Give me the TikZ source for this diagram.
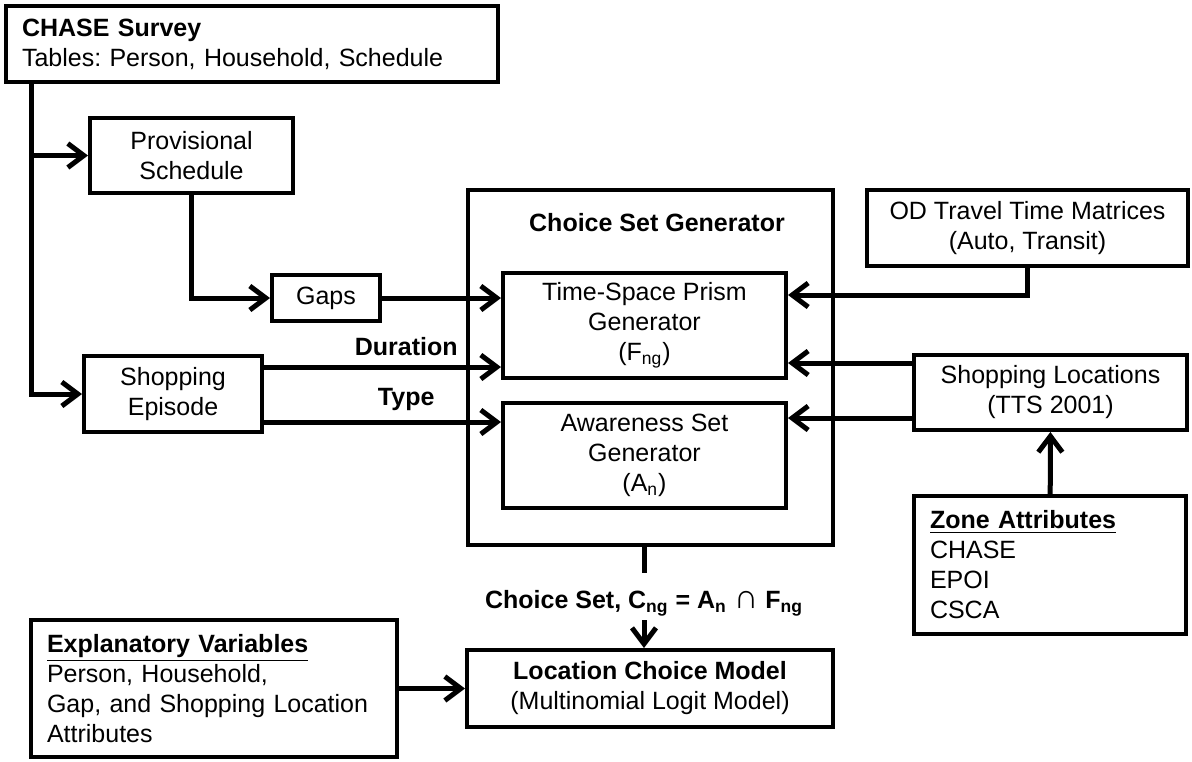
\documentclass[tikz,border=0pt]{standalone}
\usepackage{fontspec}
\setmainfont{Liberation Sans}
\usetikzlibrary{arrows.meta,positioning}
\frenchspacing

\begin{document}
\begin{tikzpicture}[x=0.5pt,y=-0.5pt,
    txt/.style={font=\fontsize{12.5}{15}\selectfont},
    bld/.style={font=\fontsize{12.5}{15}\selectfont\bfseries},
    blk/.style={txt, draw, line width=2pt, inner sep=0pt, align=center},
    lft/.style={blk, align=left, inner xsep=8pt},
    lnk/.style={line width=2.5pt},
    arr/.style={lnk, -{Straight Barb[length=8pt,width=12pt]}}]
    \useasboundingbox (0,0) rectangle (1192,761);

    % inputs
    \node[lft, text width=230pt, minimum height=38pt] (survey) at (252,44)
        {\textbf{CHASE Survey}\\Tables: Person, Household, Schedule};
    \node[blk, minimum width=101.5pt, minimum height=37.5pt] (prov) at (191.5,155.5) {Provisional\\Schedule};
    \node[blk, minimum width=54pt, minimum height=23pt] (gaps) at (326,298) {Gaps};
    \node[blk, minimum width=89pt, minimum height=38pt] (shop) at (173,394) {Shopping\\Episode};
    \node[blk, minimum width=160.5pt, minimum height=38pt] (od) at (1027.5,228) {OD Travel Time Matrices\\(Auto, Transit)};
    \node[blk, minimum width=136.5pt, minimum height=37.5pt] (shoploc) at (1050.5,392.5) {Shopping Locations\\(TTS 2001)};
    \node[lft, text width=120pt, minimum height=69pt] (zone) at (1050,565)
        {\underline{\textbf{Zone Attributes}}\\CHASE\\EPOI\\CSCA};
    \node[lft, text width=167pt, minimum height=68.5pt] (expl) at (214,688.5)
        {\underline{\textbf{Explanatory Variables}}\\Person, Household,\\Gap, and Shopping Location\\Attributes};

    % generator
    \node[blk, minimum width=182.5pt, minimum height=177.5pt] (csg) at (650.5,367.5) {};
    \node[bld] (csgtitle) at (657,223) {Choice Set Generator};
    \node[blk, minimum width=141.5pt, minimum height=52.5pt] (tsp) at (644.5,325.5) {Time-Space Prism\\Generator\\(F\textsubscript{ng})};
    \node[blk, minimum width=141.5pt, minimum height=52.5pt] (aware) at (644.5,455.5) {Awareness Set\\Generator\\(A\textsubscript{n})};

    \node[bld] (cs) at (644,603) {Choice Set, C\textsubscript{ng} = A\textsubscript{n} {\fontsize{17}{15}\selectfont ∩} F\textsubscript{ng}};
    \node[blk, minimum width=183pt, minimum height=38.5pt] (lcm) at (650,688.5) {\textbf{Location Choice Model}\\(Multinomial Logit Model)};

    \coordinate (trunk) at ([xshift=13.5pt]survey.south west);
    \draw[arr] (trunk) |- (shop);
    \draw[arr] (trunk |- prov) -- (prov);
    \draw[arr] (prov) |- (gaps);
    \draw[arr] (gaps) -- (gaps -| tsp.west);
    \draw[arr] ([yshift=13.5pt]shop.east) -- ([yshift=13.5pt]shop.east -| tsp.west)
        node[bld, above=1pt, pos=0.6] (dur) {Duration};
    \draw[arr] ([yshift=-14pt]shop.east) -- ([yshift=-14pt]shop.east -| aware.west)
        node[bld, above=1pt, pos=0.6] (typ) {Type};
    \draw[arr] (od) |- ([yshift=15.25pt]tsp.east);
    \draw[arr] ([yshift=14.75pt]shoploc.west) -- ([yshift=14.75pt]shoploc.west -| tsp.east);
    \draw[arr] ([yshift=-12.75pt]shoploc.west) -- ([yshift=-12.75pt]shoploc.west -| aware.east);
    \draw[arr] (zone) -- (shoploc);
    \draw[lnk] (csg.south -| cs) -- ([yshift=15pt]cs.center);
    \draw[arr] ([yshift=-8.5pt]cs.center) -- (cs |- lcm.north);
    \draw[arr] (expl) -- (lcm);
\end{tikzpicture}
\end{document}
